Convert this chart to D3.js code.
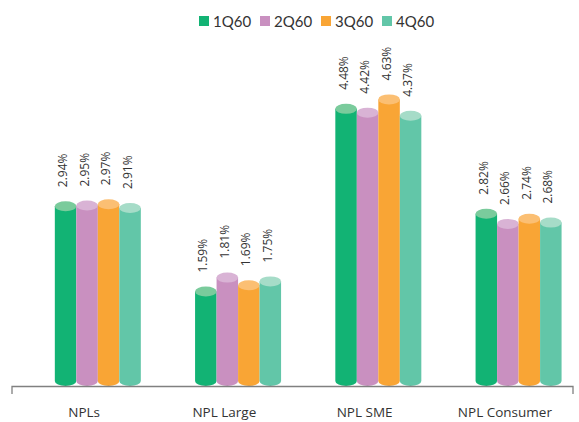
<!DOCTYPE html>
<html>
<head>
<meta charset="utf-8">
<script src="https://cdn.jsdelivr.net/npm/d3@7"></script>
<style>
  html, body { margin: 0; padding: 0; background: #ffffff; }
  svg { display: block; }
</style>
</head>
<body>
<svg id="chart" width="579" height="422"></svg>
<script>
// Categories, series and values
const categories = ["NPLs", "NPL Large", "NPL SME", "NPL Consumer"];
const seriesNames = ["1Q60", "2Q60", "3Q60", "4Q60"];
const q1 = [2.94, 1.59, 4.48, 2.82];
const q2 = [2.95, 1.81, 4.42, 2.66];
const q3 = [2.97, 1.69, 4.63, 2.74];
const q4 = [2.91, 1.75, 4.37, 2.68];
const seriesValues = [q1, q2, q3, q4];

const bodyColors = ["#12b374", "#c990c0", "#f9a535", "#62c6a8"];
const topColors  = ["#7acb9c", "#d9b3d5", "#fbbf73", "#a6dcc8"];

const svg = d3.select("#chart");

// Scales
const x = d3.scaleBand().domain(categories).range([12, 573]);
const barShift = 15.7;           // cylinders sit slightly right of the band centre
const barW = 21.5;
const inner = d3.scaleBand().domain(seriesNames).range([-2 * barW, 2 * barW]);
const y = d3.scaleLinear().domain([0, 5]).range([392, 76]);
const floorY = 381;              // centre of the cylinder base ellipse
const ry = 5;                    // vertical radius of cap ellipses
const rx = barW / 2;

// Bars as cylinders
const rows = [];
categories.forEach((c, ci) => {
  seriesNames.forEach((s, si) => {
    rows.push({ cat: c, ser: s, si, v: seriesValues[si][ci] });
  });
});

const g = svg.append("g");
const bars = g.selectAll("g.bar").data(rows).join("g").attr("class", "bar");

bars.append("path")
  .attr("fill", d => bodyColors[d.si])
  .attr("d", d => {
    const x0 = x(d.cat) + x.bandwidth() / 2 + barShift + inner(d.ser);
    const x1 = x0 + barW;
    const yt = y(d.v);
    return `M${x0},${yt} L${x0},${floorY} A${rx},${ry} 0 0 0 ${x1},${floorY} L${x1},${yt} Z`;
  });

bars.append("ellipse")
  .attr("cx", d => x(d.cat) + x.bandwidth() / 2 + barShift + inner(d.ser) + rx)
  .attr("cy", d => y(d.v))
  .attr("rx", rx)
  .attr("ry", ry)
  .attr("fill", d => topColors[d.si]);

// Rotated value labels
bars.append("text")
  .attr("transform", d => {
    const cx = x(d.cat) + x.bandwidth() / 2 + barShift + inner(d.ser) + rx;
    return `translate(${cx + 1.5},${y(d.v) - 19}) rotate(-90)`;
  })
  .attr("text-anchor", "start")
  .attr("font-family", "'Open Sans', sans-serif")
  .attr("font-size", 12)
  .attr("fill", "#333")
  .text(d => d.v.toFixed(2) + "%");

// Category axis
const axisG = svg.append("g").attr("transform", `translate(0,${386.5})`);
axisG.append("path")
  .attr("d", `M${x.range()[0]},7.5 V0 H${x.range()[1]} V7.5`)
  .attr("fill", "none")
  .attr("stroke", "#808080")
  .attr("stroke-width", 1.3);

axisG.selectAll("text.cat").data(categories).join("text")
  .attr("class", "cat")
  .attr("x", d => x(d) + x.bandwidth() / 2 + 2)
  .attr("y", 30)
  .attr("text-anchor", "middle")
  .attr("font-family", "'Open Sans', sans-serif")
  .attr("font-size", 13.5)
  .attr("fill", "#333")
  .text(d => d);

// Legend
const legend = svg.append("g").attr("transform", "translate(199,16)");
const li = legend.selectAll("g").data(seriesNames).join("g")
  .attr("transform", (d, i) => `translate(${i * 61},0)`);
li.append("rect").attr("width", 10).attr("height", 10)
  .attr("fill", (d, i) => bodyColors[i]);
li.append("text")
  .attr("x", 14).attr("y", 10.5)
  .attr("font-family", "Lato, sans-serif")
  .attr("font-weight", 400)
  .attr("font-size", 15)
  .attr("fill", "#333")
  .text(d => d);
</script>
</body>
</html>
